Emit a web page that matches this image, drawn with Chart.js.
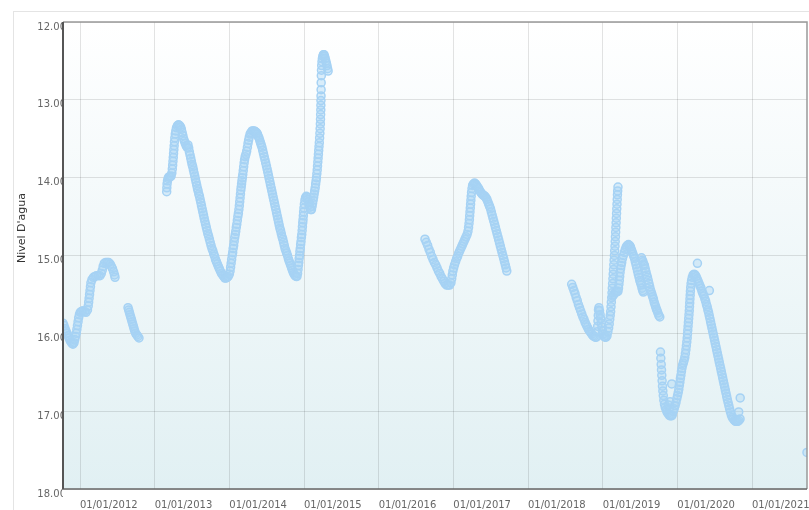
<!DOCTYPE html>
<html>
<head>
<meta charset="utf-8">
<title>Nivel D'agua</title>
<script src="https://cdn.jsdelivr.net/npm/chart.js@4.4.1/dist/chart.umd.min.js"></script>
<style>
  html, body { margin: 0; padding: 0; background: #fff; overflow: hidden; }
  #wrap { width: 809px; height: 510px; }
</style>
</head>
<body>
<div id="wrap"><canvas id="grafico" width="809" height="510"></canvas></div>
<script>
// leituras: [ano decimal, nivel d'agua em m]
const trecho2011 = [
  [2011.772,15.87],[2011.786,15.90],[2011.800,15.94],[2011.813,15.97],[2011.826,16.00],[2011.840,16.03],
  [2011.853,16.06],[2011.866,16.09],[2011.880,16.11],[2011.893,16.13],[2011.906,16.14],[2011.920,16.12],
  [2011.930,16.08],[2011.940,16.04],[2011.950,16.00],[2011.958,15.95],[2011.966,15.90],[2011.974,15.85],
  [2011.982,15.80],[2011.992,15.76],[2012.003,15.73],[2012.020,15.72],[2012.040,15.71],[2012.060,15.72],
  [2012.080,15.73],[2012.100,15.70],[2012.110,15.65],[2012.116,15.60],[2012.122,15.55],[2012.128,15.50],
  [2012.134,15.45],[2012.140,15.40],[2012.146,15.35],[2012.160,15.31],[2012.180,15.28],[2012.200,15.27],
  [2012.220,15.26],[2012.245,15.26],[2012.268,15.26],[2012.285,15.23],[2012.298,15.19],[2012.310,15.14],
  [2012.325,15.10],[2012.345,15.09],[2012.365,15.09],[2012.385,15.09],[2012.405,15.11],[2012.420,15.14],
  [2012.435,15.17],[2012.450,15.21],[2012.462,15.25],[2012.469,15.28],
  [2012.643,15.67],[2012.652,15.70],[2012.661,15.73],[2012.670,15.76],[2012.679,15.79],[2012.688,15.82],
  [2012.697,15.85],[2012.706,15.88],[2012.715,15.91],[2012.724,15.94],[2012.733,15.97],[2012.745,16.00],
  [2012.760,16.02],[2012.775,16.04],[2012.790,16.06]
];

const trecho2013 = [
  [2013.161,14.18],[2013.163,14.13],[2013.166,14.08],[2013.172,14.04],[2013.180,14.01],[2013.190,13.99],
  [2013.205,13.99],[2013.220,13.98],[2013.230,13.94],[2013.236,13.89],[2013.241,13.84],[2013.245,13.79],
  [2013.249,13.74],[2013.253,13.69],[2013.257,13.64],[2013.261,13.59],[2013.265,13.54],[2013.270,13.49],
  [2013.276,13.44],[2013.283,13.40],[2013.292,13.36],[2013.305,13.33],[2013.320,13.32],[2013.335,13.33],
  [2013.348,13.35],[2013.358,13.38],[2013.368,13.42],[2013.378,13.46],[2013.388,13.50],[2013.398,13.53],
  [2013.410,13.56],[2013.422,13.59],[2013.434,13.61],[2013.446,13.58],[2013.456,13.62],[2013.465,13.67],
  [2013.474,13.71],[2013.483,13.75],[2013.492,13.79],[2013.501,13.83],[2013.510,13.86],[2013.519,13.90],
  [2013.528,13.94],[2013.537,13.98],[2013.546,14.02],[2013.555,14.06],[2013.564,14.10],[2013.573,14.14],
  [2013.582,14.17],[2013.591,14.21],[2013.600,14.24],[2013.609,14.28],[2013.618,14.32],[2013.627,14.36],
  [2013.636,14.40],[2013.645,14.44],[2013.654,14.48],[2013.663,14.52],[2013.672,14.56],[2013.682,14.60],
  [2013.692,14.64],[2013.702,14.68],[2013.712,14.72],[2013.722,14.75],[2013.733,14.79],[2013.744,14.83],
  [2013.755,14.87],[2013.767,14.91],[2013.779,14.94],[2013.791,14.98],[2013.803,15.01],[2013.815,15.05],
  [2013.827,15.08],[2013.840,15.11],[2013.853,15.14],[2013.866,15.17],[2013.880,15.20],[2013.895,15.23],
  [2013.910,15.25],[2013.925,15.27],[2013.940,15.29],[2013.955,15.29],[2013.970,15.28],[2013.985,15.27],
  [2014.000,15.24],[2014.010,15.20],[2014.017,15.15],[2014.024,15.10],[2014.031,15.05],[2014.038,15.00],
  [2014.045,14.96],[2014.051,14.91],[2014.058,14.87],[2014.065,14.82],[2014.072,14.77],[2014.079,14.73],
  [2014.086,14.69],[2014.093,14.64],[2014.100,14.60],[2014.107,14.55],[2014.114,14.50],[2014.121,14.46],
  [2014.128,14.41],[2014.134,14.36],[2014.139,14.31],[2014.144,14.26],[2014.149,14.21],[2014.154,14.16],
  [2014.159,14.12],[2014.164,14.08],[2014.169,14.04],[2014.174,14.00],[2014.180,13.96],[2014.186,13.91],
  [2014.192,13.86],[2014.198,13.81],[2014.204,13.77],[2014.212,13.73],[2014.222,13.70],[2014.232,13.66],
  [2014.242,13.61],[2014.250,13.56],[2014.258,13.52],[2014.267,13.48],[2014.278,13.44],[2014.290,13.42],
  [2014.305,13.40],[2014.320,13.40],[2014.335,13.40],[2014.350,13.41],[2014.365,13.42],[2014.377,13.44],
  [2014.387,13.47],[2014.397,13.49],[2014.407,13.52],[2014.417,13.55],[2014.427,13.58],[2014.437,13.61],
  [2014.447,13.65],[2014.457,13.69],[2014.467,13.73],[2014.477,13.77],[2014.487,13.81],[2014.497,13.85],
  [2014.506,13.89],[2014.515,13.93],[2014.524,13.97],[2014.533,14.01],[2014.542,14.05],[2014.551,14.09],
  [2014.560,14.13],[2014.569,14.17],[2014.578,14.21],[2014.587,14.25],[2014.596,14.29],[2014.605,14.33],
  [2014.614,14.37],[2014.623,14.41],[2014.632,14.45],[2014.641,14.49],[2014.650,14.53],[2014.659,14.57],
  [2014.668,14.61],[2014.677,14.65],[2014.686,14.68],[2014.696,14.72],[2014.706,14.76],[2014.716,14.79],
  [2014.726,14.83],[2014.736,14.87],[2014.746,14.91],[2014.757,14.94],[2014.768,14.97],[2014.779,15.00],
  [2014.790,15.04],[2014.801,15.07],[2014.812,15.10],[2014.823,15.13],[2014.834,15.16],[2014.845,15.19],
  [2014.857,15.22],[2014.869,15.24],[2014.881,15.26],[2014.894,15.27],[2014.906,15.27],[2014.914,15.23],
  [2014.920,15.18],[2014.925,15.13],[2014.930,15.09],[2014.935,15.04],[2014.940,15.00],[2014.945,14.95],
  [2014.950,14.91],[2014.955,14.86],[2014.960,14.82],[2014.965,14.77],[2014.970,14.73],[2014.975,14.68],
  [2014.979,14.63],[2014.983,14.58],[2014.987,14.54],[2014.991,14.49],[2014.995,14.44],[2014.999,14.39],
  [2015.005,14.34],[2015.012,14.29],[2015.020,14.26],[2015.030,14.24],[2015.040,14.25],[2015.050,14.28],
  [2015.060,14.31],[2015.070,14.35],[2015.080,14.38],[2015.090,14.41],[2015.100,14.41],[2015.108,14.37],
  [2015.115,14.33],[2015.122,14.29],[2015.129,14.25],[2015.136,14.21],[2015.143,14.17],[2015.150,14.13],
  [2015.156,14.08],[2015.162,14.04],[2015.167,14.00],[2015.172,13.95],[2015.177,13.90],[2015.181,13.85],
  [2015.185,13.80],[2015.189,13.75],[2015.193,13.70],[2015.197,13.65],[2015.201,13.60],[2015.205,13.55],
  [2015.209,13.49],[2015.213,13.43],[2015.216,13.37],[2015.219,13.31],[2015.221,13.25],[2015.223,13.19],
  [2015.225,13.13],[2015.226,13.07],[2015.227,13.01],[2015.228,12.95],[2015.229,12.87],[2015.230,12.78],
  [2015.232,12.69],[2015.234,12.62],[2015.237,12.56],[2015.241,12.51],[2015.246,12.47],[2015.252,12.44],
  [2015.260,12.42],[2015.268,12.42],[2015.276,12.44],[2015.284,12.47],[2015.292,12.50],[2015.300,12.53],
  [2015.308,12.56],[2015.316,12.60],[2015.323,12.63]
];

const trecho2016 = [
  [2016.620,14.79],[2016.638,14.83],[2016.656,14.87],[2016.674,14.92],[2016.692,14.96],[2016.710,15.01],
  [2016.728,15.05],[2016.746,15.09],[2016.764,15.12],[2016.782,15.16],[2016.800,15.20],[2016.818,15.23],
  [2016.836,15.27],[2016.854,15.30],[2016.872,15.33],[2016.890,15.36],[2016.910,15.38],[2016.930,15.38],
  [2016.950,15.38],[2016.968,15.35],[2016.978,15.30],[2016.986,15.25],[2016.994,15.20],[2017.004,15.16],
  [2017.016,15.12],[2017.030,15.08],[2017.044,15.04],[2017.058,15.01],[2017.072,14.97],[2017.086,14.94],
  [2017.100,14.91],[2017.114,14.88],[2017.128,14.85],[2017.142,14.82],[2017.156,14.79],[2017.170,14.76],
  [2017.184,14.73],[2017.196,14.69],[2017.204,14.64],[2017.210,14.59],[2017.215,14.54],[2017.219,14.49],
  [2017.223,14.44],[2017.227,14.39],[2017.231,14.34],[2017.235,14.29],[2017.239,14.24],[2017.244,14.19],
  [2017.250,14.14],[2017.258,14.10],[2017.270,14.08],[2017.284,14.07],[2017.298,14.08],[2017.312,14.10],
  [2017.326,14.12],[2017.340,14.14],[2017.354,14.17],[2017.368,14.19],[2017.382,14.21],[2017.396,14.22],
  [2017.410,14.23],[2017.424,14.24],[2017.438,14.26],[2017.450,14.28],[2017.462,14.31],[2017.474,14.34],
  [2017.486,14.37],[2017.498,14.40],[2017.509,14.44],[2017.520,14.48],[2017.531,14.52],[2017.542,14.56],
  [2017.553,14.60],[2017.564,14.64],[2017.575,14.68],[2017.586,14.72],[2017.597,14.76],[2017.608,14.80],
  [2017.619,14.84],[2017.630,14.88],[2017.641,14.92],[2017.652,14.96],[2017.663,15.00],[2017.674,15.04],
  [2017.685,15.08],[2017.696,15.12],[2017.706,15.16],[2017.716,15.20]
];

const trecho2018 = [
  [2018.585,15.37],[2018.600,15.41],[2018.615,15.45],[2018.630,15.49],[2018.645,15.54],[2018.660,15.58],
  [2018.675,15.63],[2018.690,15.67],[2018.705,15.71],[2018.720,15.75],[2018.735,15.79],[2018.750,15.82],
  [2018.765,15.86],[2018.780,15.89],[2018.795,15.92],[2018.810,15.95],[2018.825,15.97],[2018.840,15.99],
  [2018.855,16.01],[2018.870,16.03],[2018.885,16.04],[2018.900,16.05],[2018.915,16.05],[2018.928,15.98],
  [2018.933,15.91],[2018.937,15.84],[2018.941,15.77],[2018.944,15.70],[2018.950,15.67],[2018.958,15.71],
  [2018.966,15.76],[2018.974,15.81],[2018.982,15.87],[2018.990,15.92],[2018.998,15.97],[2019.006,16.01],
  [2019.018,16.04],[2019.031,16.05],[2019.045,16.05],[2019.058,16.03],[2019.070,15.98],[2019.080,15.93],
  [2019.088,15.88],[2019.095,15.82],[2019.101,15.77],[2019.107,15.72],[2019.112,15.66],[2019.116,15.60],
  [2019.121,15.54],[2019.125,15.48],[2019.129,15.42],[2019.133,15.36],[2019.137,15.30],[2019.141,15.24],
  [2019.145,15.18],[2019.149,15.12],[2019.153,15.06],[2019.157,15.00],[2019.161,14.94],[2019.165,14.88],
  [2019.168,14.82],[2019.171,14.76],[2019.174,14.70],[2019.177,14.64],[2019.180,14.58],[2019.183,14.52],
  [2019.186,14.46],[2019.189,14.40],[2019.192,14.34],[2019.195,14.28],[2019.198,14.22],[2019.201,14.17],
  [2019.205,14.12],
  [2019.135,15.52],[2019.150,15.50],[2019.165,15.48],[2019.180,15.47],[2019.195,15.46],[2019.205,15.46],
  [2019.212,15.42],[2019.218,15.37],[2019.223,15.32],[2019.228,15.27],[2019.233,15.22],[2019.240,15.17],
  [2019.247,15.13],[2019.255,15.09],[2019.265,15.04],[2019.277,15.00],[2019.290,14.96],[2019.303,14.92],
  [2019.316,14.89],[2019.330,14.87],[2019.345,14.86],[2019.360,14.87],[2019.372,14.89],[2019.383,14.92],
  [2019.394,14.95],[2019.405,14.98],[2019.416,15.01],[2019.427,15.04],[2019.437,15.08],[2019.447,15.12],
  [2019.457,15.16],[2019.467,15.20],[2019.477,15.24],[2019.487,15.28],[2019.497,15.32],[2019.507,15.35],
  [2019.517,15.38],[2019.527,15.42],[2019.537,15.45],[2019.545,15.47],
  [2019.520,15.03],[2019.530,15.06],[2019.540,15.08],[2019.550,15.11],[2019.560,15.13],[2019.570,15.17],
  [2019.580,15.21],[2019.590,15.25],[2019.600,15.28],[2019.610,15.32],[2019.620,15.36],[2019.630,15.40],
  [2019.640,15.44],[2019.650,15.47],[2019.660,15.50],[2019.670,15.53],[2019.680,15.56],[2019.690,15.60],
  [2019.700,15.63],[2019.710,15.66],[2019.720,15.69],[2019.730,15.71],[2019.740,15.74],[2019.752,15.77],
  [2019.765,15.79]
];

const trecho2019 = [
  [2019.774,16.24],[2019.779,16.32],[2019.784,16.40],[2019.788,16.47],[2019.792,16.54],[2019.796,16.61],
  [2019.801,16.68],[2019.806,16.74],[2019.812,16.80],[2019.819,16.86],[2019.828,16.91],[2019.838,16.95],
  [2019.850,16.98],[2019.862,17.01],[2019.875,17.03],[2019.890,17.05],[2019.905,17.06],[2019.920,17.06],
  [2019.932,17.05],[2019.880,16.92],[2019.895,16.96],[2019.902,16.88],[2019.945,17.00],[2019.958,16.97],
  [2019.970,16.93],[2019.982,16.89],[2019.993,16.84],[2020.003,16.80],[2020.012,16.76],[2020.020,16.72],
  [2020.027,16.67],[2020.034,16.63],[2020.041,16.58],[2020.048,16.54],[2020.055,16.49],[2020.062,16.45],
  [2020.070,16.41],[2020.080,16.38],[2020.090,16.35],[2020.100,16.31],[2020.108,16.26],[2020.115,16.21],
  [2020.121,16.16],[2020.127,16.11],[2020.132,16.06],[2020.136,16.01],[2020.140,15.96],[2020.144,15.91],
  [2020.148,15.86],[2020.152,15.81],[2020.156,15.76],[2020.160,15.71],[2020.163,15.66],[2020.166,15.61],
  [2020.169,15.56],[2020.172,15.51],[2020.175,15.46],[2020.179,15.41],[2020.184,15.36],[2020.191,15.32],
  [2020.200,15.28],[2020.212,15.25],[2020.225,15.24],[2020.238,15.25],[2020.252,15.27],[2020.265,15.30],
  [2020.278,15.33],[2020.291,15.36],[2020.304,15.39],[2020.317,15.42],[2020.330,15.46],[2020.343,15.49],
  [2020.356,15.52],[2020.369,15.56],[2020.380,15.59],[2020.390,15.63],[2020.400,15.66],[2020.409,15.70],
  [2020.418,15.73],[2020.427,15.77],[2020.436,15.81],[2020.445,15.85],[2020.454,15.89],[2020.463,15.93],
  [2020.472,15.97],[2020.481,16.01],[2020.490,16.05],[2020.499,16.09],[2020.508,16.13],[2020.517,16.17],
  [2020.526,16.21],[2020.535,16.25],[2020.544,16.29],[2020.553,16.33],[2020.562,16.37],[2020.571,16.41],
  [2020.580,16.45],[2020.589,16.49],[2020.598,16.53],[2020.607,16.57],[2020.616,16.61],[2020.625,16.65],
  [2020.634,16.69],[2020.643,16.73],[2020.652,16.77],[2020.661,16.81],[2020.670,16.85],[2020.680,16.89],
  [2020.690,16.93],[2020.700,16.97],[2020.711,17.01],[2020.723,17.05],[2020.736,17.08],[2020.750,17.10],
  [2020.765,17.12],[2020.780,17.13],[2020.795,17.13],[2020.810,17.13],[2020.825,17.12],[2020.840,17.10]
];

// pontos soltos fora da nuvem principal
const pontosIsolados = [
  [2019.925,16.65],[2020.269,15.10],[2020.429,15.45],[2020.822,17.01],[2020.842,16.83],[2021.736,17.53]
];

const ticksX = [2012, 2013, 2014, 2015, 2016, 2017, 2018, 2019, 2020, 2021];
const rotulosX = ['01/01/2012', '01/01/2013', '01/01/2014', '01/01/2015', '01/01/2016',
                  '01/01/2017', '01/01/2018', '01/01/2019', '01/01/2020', '01/01/2021'];
const ticksY = [12, 13, 14, 15, 16, 17, 18];
const rotulosY = ['12.00', '13.00', '14.00', '15.00', '16.00', '17.00', '18.00'];

(function () {
  const canvas = document.getElementById('grafico');

  const todos = [].concat(trecho2011, trecho2013, trecho2016, trecho2018, trecho2019, pontosIsolados)
    .map(p => ({ x: p[0], y: p[1] }));

  const FONTE = "'DejaVu Sans', sans-serif";

  // fundo degradê + moldura externa
  const fundo = {
    id: 'fundo',
    beforeDraw(chart) {
      const { ctx, chartArea: a } = chart;
      ctx.save();
      ctx.fillStyle = '#fff';
      ctx.fillRect(0, 0, chart.width, chart.height);
      ctx.strokeStyle = '#e4e4e4';
      ctx.lineWidth = 1;
      ctx.strokeRect(13.5, 11.5, chart.width + 20, chart.height + 20);
      const g = ctx.createLinearGradient(0, a.top, 0, a.bottom);
      g.addColorStop(0, '#ffffff');
      g.addColorStop(1, '#e1f0f3');
      ctx.fillStyle = g;
      ctx.fillRect(a.left, a.top, a.right - a.left, a.bottom - a.top);
      ctx.restore();
    }
  };

  // bordas da área e título do eixo Y
  const moldura = {
    id: 'moldura',
    afterDraw(chart) {
      const { ctx, chartArea: a } = chart;
      ctx.save();
      ctx.lineWidth = 1.5;
      ctx.strokeStyle = '#999';
      ctx.beginPath();
      ctx.moveTo(a.left, a.top); ctx.lineTo(a.right, a.top); ctx.lineTo(a.right, a.bottom);
      ctx.stroke();
      ctx.strokeStyle = '#666';
      ctx.beginPath();
      ctx.moveTo(a.left, a.bottom); ctx.lineTo(a.right, a.bottom);
      ctx.stroke();
      ctx.lineWidth = 2;
      ctx.strokeStyle = '#555';
      ctx.beginPath();
      ctx.moveTo(a.left, a.top); ctx.lineTo(a.left, a.bottom);
      ctx.stroke();

      ctx.translate(22, 228);
      ctx.rotate(-Math.PI / 2);
      ctx.fillStyle = '#333';
      ctx.font = "11px " + FONTE;
      ctx.textAlign = 'center';
      ctx.textBaseline = 'middle';
      ctx.fillText("Nivel D'agua", 0, 0);
      ctx.restore();
    }
  };

  new Chart(canvas.getContext('2d'), {
    type: 'scatter',
    data: {
      datasets: [{
        label: "Nivel D'agua",
        data: todos,
        pointRadius: 4,
        pointBorderWidth: 1.5,
        pointBorderColor: '#a6d2f4',
        pointBackgroundColor: 'rgba(168,212,245,0.4)',
        pointHoverRadius: 4
      }]
    },
    options: {
      responsive: false,
      animation: false,
      events: [],
      layout: { autoPadding: false, padding: { top: 22, right: 2, left: 0, bottom: 0 } },
      plugins: {
        legend: { display: false },
        tooltip: { enabled: false }
      },
      scales: {
        x: {
          type: 'linear',
          min: 2011.7723,
          max: 2021.7366,
          afterBuildTicks: s => { s.ticks = ticksX.map(v => ({ value: v })); },
          afterFit: s => { s.height = 21; s.paddingLeft = 0; s.paddingRight = 0; },
          border: { display: false },
          grid: { color: 'rgba(0,0,0,0.11)', lineWidth: 1, drawTicks: false },
          ticks: {
            align: 'start',
            autoSkip: false,
            maxRotation: 0,
            minRotation: 0,
            padding: 10,
            color: '#666',
            font: { family: FONTE, size: 10 },
            callback: v => rotulosX[ticksX.indexOf(v)]
          }
        },
        y: {
          type: 'linear',
          reverse: true,
          min: 12,
          max: 18,
          afterBuildTicks: s => { s.ticks = ticksY.map(v => ({ value: v })); },
          afterFit: s => { s.width = 63; s.paddingTop = 0; s.paddingBottom = 0; },
          border: { display: false },
          grid: { color: 'rgba(0,0,0,0.11)', lineWidth: 1, drawTicks: false },
          ticks: {
            align: 'start',
            padding: -3,
            color: '#666',
            font: { family: FONTE, size: 10 },
            callback: v => rotulosY[ticksY.indexOf(v)]
          }
        }
      }
    },
    plugins: [fundo, moldura]
  });
})();
</script>
</body>
</html>
